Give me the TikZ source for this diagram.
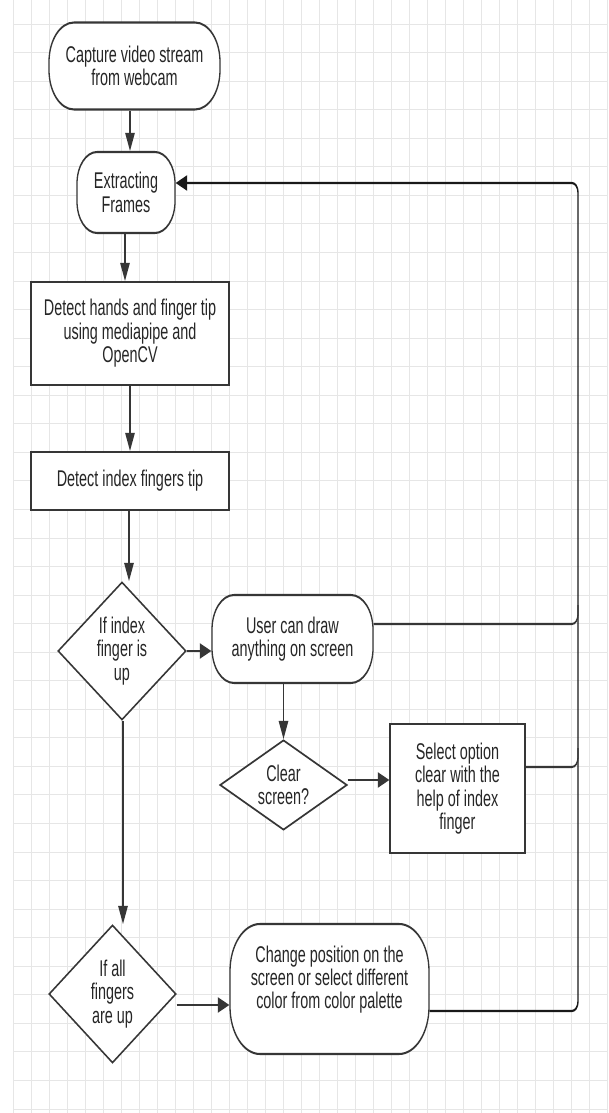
\documentclass[tikz,border=0pt]{standalone}
\usepackage{fontspec}
\setmainfont{Liberation Sans}
\usetikzlibrary{shapes.geometric,arrows.meta}
\newcommand\lblfont{\fontsize{14.4}{14.8}\selectfont}
\definecolor{linec}{HTML}{363636}
\definecolor{gridc}{HTML}{E6E6E6}
\begin{document}
\begin{tikzpicture}[x=1pt,y=-1pt,
  gridline/.style={draw=gridc, line width=0.8pt},
  box/.style={draw=linec, line width=1.3pt, fill=white, rectangle, inner sep=0pt, align=center, font=\lblfont, text=black!85},
  term/.style={box, rounded corners=#1},
  dec/.style={draw=linec, line width=1.2pt, fill=white, diamond, inner sep=0pt, align=center, font=\lblfont, text=black!85},
  arr/.style={draw=linec, line width=1.3pt, -{Triangle[length=11.5pt,width=9.5pt]}},
  fb/.style={draw=black!90, line width=1.4pt, rounded corners=6pt, -{Triangle[length=11.5pt,width=9.5pt]}},
  fbl/.style={draw=linec, line width=1.3pt, rounded corners=6pt}]
\useasboundingbox (0,0) rectangle (608,1113);
\fill[white] (0,0) rectangle (608,1113);
\foreach \k in {0,...,33} \draw[gridline] (13+18*\k,0) -- (13+18*\k,1113);
\foreach \k in {0,...,38} \draw[gridline] (13,24+28.55*\k) -- (608,24+28.55*\k);
\begin{scope}[transform canvas={yscale=1.58}, y=-0.63291pt]
  % nodes
  \node[term=25pt, minimum width=171pt, minimum height=55.06pt] (cap) at (134.5,66) {Capture video stream\\from webcam};
  \node[term=20pt, minimum width=98pt, minimum height=51.27pt] (ext) at (126,192.5) {Extracting\\Frames};
  \node[box, minimum width=198pt, minimum height=65.19pt] (det) at (130,333.5) {Detect hands and finger tip\\using mediapipe and\\OpenCV};
  \node[box, minimum width=198pt, minimum height=36.71pt] (idx) at (130,481) {Detect index fingers tip};
  \node[dec, aspect=1.47, minimum width=128pt, minimum height=87.34pt] (d1) at (122,651) {If index\\finger is\\up};
  \node[term=22pt, minimum width=161pt, minimum height=55.7pt] (usr) at (292.5,639) {User can draw\\anything on screen};
  \node[dec, aspect=2.2, minimum width=127pt, minimum height=56.96pt] (clr) at (283.5,785) {Clear\\screen?};
  \node[box, minimum width=135pt, minimum height=81.65pt] (sel) at (457.5,788.5) {Select option\\clear with the\\help of index\\finger};
  \node[dec, aspect=1.47, minimum width=127pt, minimum height=87.34pt] (d2) at (112.5,994) {If all\\fingers\\are up};
  \node[term=30pt, minimum width=199pt, minimum height=82.28pt] (chg) at (329.5,989) {Change position on the\\screen or select different\\color from color palette\\ \mbox{}};
  % feedback corner coordinates
  \coordinate (rt) at (578,183);
  \coordinate (rb) at (578,1011);
  \coordinate (j1) at (578,624);
  \coordinate (j2) at (578,767);
  % connectors
  \draw[arr] (cap.south -| 130,0) -- (ext.north -| 130,0);
  \draw[arr] (ext.south -| 125,0) -- (det.north -| 125,0);
  \draw[arr] (det.south -| 130,0) -- (idx.north -| 130,0);
  \draw[arr] (idx.south -| 129,0) -- (d1.north -| 129,0);
  \draw[arr] (d1.east) -- (d1.east -| usr.west);
  \draw[arr] (usr.south -| clr.north) -- (clr.north);
  \draw[arr] (clr.east |- 0,780) -- (sel.west |- 0,780);
  \draw[arr] (d1.south -| 123,0) -- (d2.north -| 123,0);
  \draw[arr] (d2.east |- 0,1005) -- (chg.west |- 0,1005);
  \draw[fb] (chg.east |- rb) -- (rb) -- (rt) -- (ext.east |- rt);
  \draw[fbl] (usr.east |- j1) -- (j1) -- ([yshift=12pt]j1);
  \draw[fbl] (sel.east |- j2) -- (j2) -- ([yshift=12pt]j2);
\end{scope}
\end{tikzpicture}
\end{document}
